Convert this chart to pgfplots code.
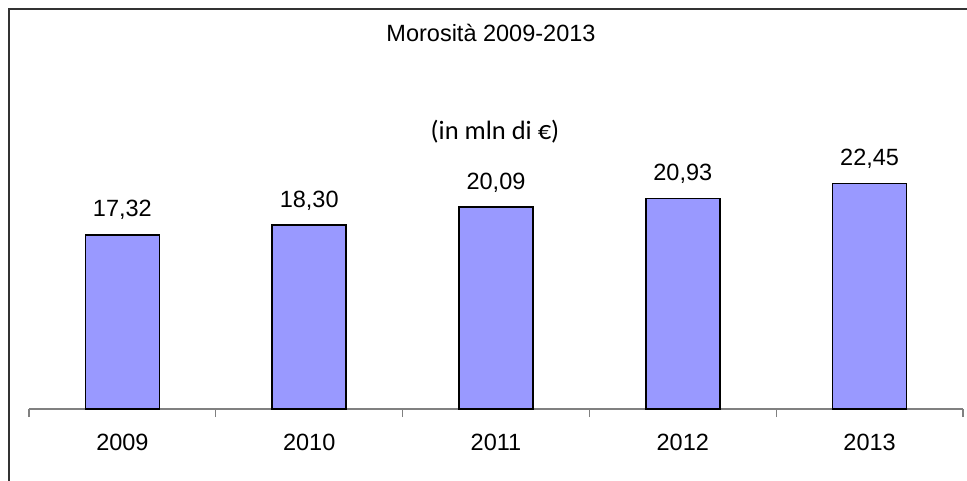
\documentclass[border=0pt]{standalone}
\usepackage{pgfplots}
\pgfplotsset{compat=1.18}
\usepackage{fontspec}
\setmainfont{Liberation Sans}
\newfontfamily\calib{Carlito}
\definecolor{barfill}{HTML}{9999FF}
\definecolor{axgray}{HTML}{808080}
\begin{document}
\begin{tikzpicture}
\useasboundingbox (-29bp,-72bp) rectangle (938bp,409bp);
\begin{axis}[
  at={(0,0)}, anchor=south west,
  scale only axis,
  width=934bp, height=400bp,
  xmin=-0.5, xmax=4.5, ymin=0, ymax=39.8,
  axis x line*=bottom, axis y line=none,
  x axis line style={draw=axgray, line width=1.2bp, -},
  xtick={0,1,2,3,4},
  xticklabels={2009,2010,2011,2012,2013},
  minor xtick={-0.5,0.5,1.5,2.5,3.5,4.5},
  major tick length=0pt,
  minor tick length=8bp,
  tick align=outside,
  minor tick style={draw=axgray, line width=1.2bp},
  xticklabel style={font=\fontsize{23.5bp}{28bp}\selectfont, anchor=base, yshift=-41bp},
  ybar, bar width=74bp,
  nodes near coords,
  every node near coord/.append style={font=\fontsize{23.5bp}{28bp}\selectfont, anchor=base, yshift=18bp},
  /pgf/number format/.cd, use comma, fixed, fixed zerofill, precision=2, assume math mode=true,
  /pgfplots/.cd,
  clip=false,
]
\addplot[fill=barfill, draw=black, line width=1.5bp] coordinates {(0,17.32) (1,18.30) (2,20.09) (3,20.93) (4,22.45)};
\end{axis}
\draw[draw=black!80, line width=2bp] (-20bp,-80bp) -- (-20bp,400bp) -- (950bp,400bp);
\node[anchor=base, inner sep=0pt, font=\fontsize{23.5bp}{28bp}\selectfont] at (462bp,367bp) {Morosità 2009-2013};
\node[anchor=base, inner sep=0pt, font=\calib\fontsize{26.5bp}{30bp}\selectfont] at (466bp,269bp) {(in mln di €)};
\end{tikzpicture}
\end{document}
